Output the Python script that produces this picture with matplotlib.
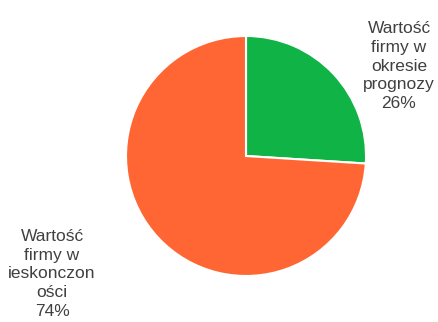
import matplotlib.pyplot as plt

labels = ["Wartość\nfirmy w\nokresie\nprognozy\n26%", "Wartość\nfirmy w\nieskonczon\ności\n74%"]
values = [26, 74]
colors = ["#10B345", "#FF6633"]

fig = plt.figure(figsize=(4.38, 3.22), dpi=100)
ax = fig.add_axes([0, 0, 1, 1])

ax.pie(values, colors=colors, startangle=90, counterclock=False,
       center=(246, 166), radius=120, explode=[0.03, 0],
       wedgeprops=dict(edgecolor="white", linewidth=1.5), frame=True)
ax.set_xlim(0, 438)
ax.set_ylim(0, 322)
ax.set_aspect("equal")
ax.axis("off")

# labels placed by hand like the original
ax.text(399, 322 - 66, labels[0], ha="center", va="center", fontsize=12.5,
        family="Liberation Sans", color="#404040", linespacing=1.3)
ax.text(52, 322 - 274, labels[1], ha="center", va="center", fontsize=12.5,
        family="Liberation Sans", color="#404040", linespacing=1.3)

fig.savefig("out.png", dpi=100)
